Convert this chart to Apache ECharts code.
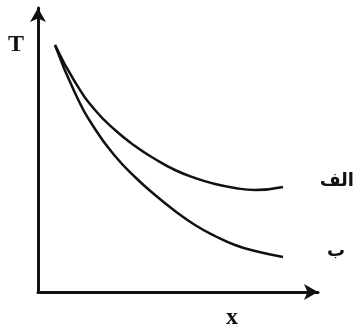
<!DOCTYPE html>
<html>
<head>
<meta charset="utf-8">
<script src="https://cdn.jsdelivr.net/npm/echarts@6/dist/echarts.min.js"></script>
<style>
  html, body { margin: 0; padding: 0; background: #fff; }
  #chart { width: 354px; height: 330px; }
</style>
</head>
<body>
<div id="chart"></div>
<script>
// Shared x positions of the sampled points
const xs = [17, 37, 57, 77, 97, 117, 137, 157, 177, 197, 217, 245];
// Curve A (upper, "الف"): T values at xs
const curveA = [247, 210, 182, 162, 146, 133, 122, 114, 108, 104, 102, 105];
// Curve B (lower, "ب"): T values at xs
const curveB = [247, 199, 163, 136, 115, 97, 81, 67, 56, 47, 41, 35];
const labelA = 'الف';
const labelB = 'ب';
const xName = 'x';
const yName = 'T';

const chart = echarts.init(document.getElementById('chart'));

const axisLine = {
  show: true,
  symbol: ['none', 'arrow'],
  symbolSize: [12, 14],
  lineStyle: { color: '#111', width: 3 }
};

const plain = {
  axisTick: { show: false },
  axisLabel: { show: false },
  splitLine: { show: false }
};

const curve = (name, ys) => ({
  type: 'line',
  name: name,
  data: xs.map((x, i) => [x, ys[i]]),
  smooth: 0.5,
  showSymbol: false,
  lineStyle: { color: '#111', width: 2.5 }
});

const serifBold = { fontFamily: 'Liberation Serif', fontWeight: 'bold', fill: '#111' };
const arabicBold = { fontFamily: 'DejaVu Sans', fontWeight: 'bold', fill: '#111', fontSize: 18 };

chart.setOption({
  animation: false,
  backgroundColor: '#fff',
  grid: { left: 38, right: 36, top: 8, bottom: 38 },
  xAxis: Object.assign({ type: 'value', min: 0, max: 280, axisLine: axisLine }, plain),
  yAxis: Object.assign({ type: 'value', min: 0, max: 284, axisLine: axisLine }, plain),
  series: [curve(labelA, curveA), curve(labelB, curveB)],
  graphic: [
    { type: 'text', left: 8, top: 33, style: Object.assign({ text: yName, fontSize: 24 }, serifBold) },
    { type: 'text', left: 226, top: 306, style: Object.assign({ text: xName, fontSize: 24 }, serifBold) },
    { type: 'text', right: 0, top: 172, style: Object.assign({ text: labelA }, arabicBold) },
    { type: 'text', left: 327, top: 242, style: Object.assign({ text: labelB }, arabicBold) }
  ]
});
</script>
</body>
</html>
